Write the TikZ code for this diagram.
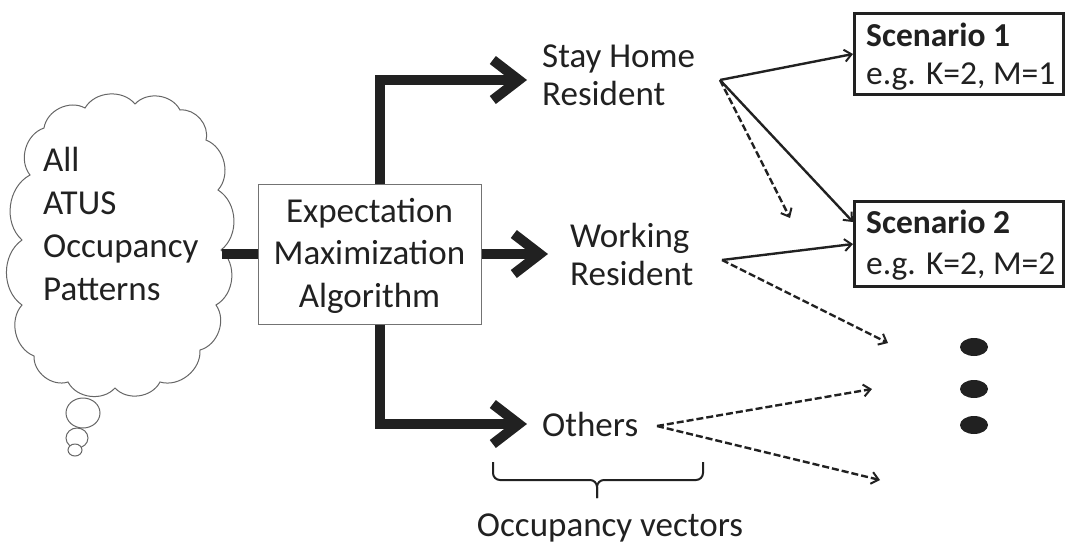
\documentclass[tikz,border=0pt]{standalone}
\usepackage{fontspec}
\setmainfont{Carlito}
\usetikzlibrary{arrows.meta,shapes.geometric,calc}
\definecolor{ink}{gray}{0.13}
% lines stacked at a fixed baseline distance; the baseline is that of the first line
\newcommand\twoline[2]{\vtop{\lineskiplimit=-100pt\relax\hbox{#1}\hbox{#2}}}
\newcommand\centredthree[3]{\vtop{\lineskiplimit=-100pt\relax
  \halign{\hfil##\hfil\cr #1\cr #2\cr #3\cr}}}
\begin{document}
\begin{tikzpicture}[x=1pt,y=-1pt,
  label text/.style={inner sep=0pt, text=ink, font=\fontsize{35}{38}\selectfont},
  scen text/.style={inner sep=0pt, text=ink, font=\fontsize{33.5}{38}\selectfont},
  fat/.style={draw=ink, line width=10pt, line join=miter,
    -{Straight Barb[length=26pt,width=40pt,line width=10pt]}},
  fatline/.style={draw=ink, line width=10pt},
  thin/.style={draw=ink, line width=2.4pt,
    -{Straight Barb[length=7pt,width=12pt,line width=2pt]}},
  dashedarrow/.style={thin, dash pattern=on 7pt off 3pt},
  scenbox/.style={draw=ink, line width=3pt, fill=white, minimum width=209pt, inner sep=0pt},
  bubble/.style={draw=black!60, line width=1pt, fill=white},
  puff/.style={bend left=55},
  bracestyle/.style={draw=ink, line width=2pt, rounded corners=7pt},
]
\useasboundingbox (0,0) rectangle (1086,550);

% thought cloud: a ring of puffs, then its trailing bubbles
\draw[bubble] (30,175) to[puff] (44,128) to[puff] (85,108) to[puff] (135,104)
  to[puff] (180,110) to[puff] (206,140) to[puff] (218,190) to[puff] (221,250)
  to[puff] (216,305) to[puff] (200,350) to[puff] (160,382) to[puff] (115,388)
  to[puff] (68,382) to[puff] (34,356) to[puff] (22,305) to[puff] (22,240)
  to[puff] (30,175) -- cycle;
\coordinate (cloudE) at (222,254);
\node[ellipse, bubble, minimum width=34pt, minimum height=30pt, inner sep=0pt] (b1) at (83,413) {};
\node[ellipse, bubble, minimum width=22pt, minimum height=20pt, inner sep=0pt] (b2) at (77,438) {};
\node[ellipse, bubble, minimum width=14pt, minimum height=12pt, inner sep=0pt] (b3) at (75,450) {};
\node[anchor=base west, inner sep=0pt, text=ink, font=\fontsize{35}{43}\selectfont]
  (cloudtext) at (43,171) {\vtop{\lineskiplimit=-100pt\relax\hbox{All}\hbox{ATUS}\hbox{Occupancy}\hbox{Patterns}}};

% EM box
\node[draw=black!55, line width=1pt, fill=white, minimum width=223pt, minimum height=140pt, inner sep=0pt]
  (em) at (369.5,254) {};
\node[anchor=base, inner sep=0pt, text=ink, font=\fontsize{35}{42.5}\selectfont]
  (emtext) at (369.5,222) {\centredthree{Expectation}{Maximization}{Algorithm}};

% class labels
\node[label text, anchor=base west] (stay) at (542,67) {\twoline{Stay Home}{Resident}};
\node[label text, anchor=base west] (work) at (570,247) {\twoline{Working}{Resident}};
\node[label text, anchor=base west] (others) at (542,436) {Others};

% scenario boxes
\node[scenbox, minimum height=81pt, anchor=north west] (s1) at (853,12) {};
\node[scenbox, minimum height=85pt, anchor=north west] (s2) at (853,200) {};
\node[scen text, anchor=base west] (s1a) at (866,46) {\bfseries Scenario 1};
\node[scen text, anchor=base west] (s1b) at (866,84) {e.g. K=2, M=1};
\node[scen text, anchor=base west] (s2a) at (866,233) {\bfseries Scenario 2};
\node[scen text, anchor=base west] (s2b) at (866,274) {e.g. K=2, M=2};

% further scenarios
\foreach \y [count=\i] in {347,389,425}
  \node[ellipse, fill=ink, minimum width=28pt, minimum height=18pt, inner sep=0pt] (dot\i) at (974,\y) {};

% anchor points of the connectors
\coordinate (trunk) at (380,0);
\coordinate (tipstay) at (527,80);
\coordinate (tipothers) at (527,424);
\coordinate (tipwork) at (548,254);
\coordinate (fanA) at (720,80);
\coordinate (fanB) at (722,260);
\coordinate (fanC) at (657,426);
\coordinate (endA) at (790,218);
\coordinate (endB) at (888,343);
\coordinate (endC1) at (872,389);
\coordinate (endC2) at (880,480);

% thick connectors
\draw[fatline] (cloudE) -- (em.west);
\draw[fat] (em.north -| trunk) |- (tipstay);
\draw[fat] (em.south -| trunk) |- (tipothers);
\draw[fat] (em.east) -- (tipwork);

% scenario connectors
\draw[thin] (fanA) -- (s1.west);
\draw[thin] (fanA) -- ($(s2.north west)!0.25!(s2.south west)$);
\draw[dashedarrow] (fanA) -- (endA);
\draw[thin] (fanB) -- (s2.west);
\draw[dashedarrow] (fanB) -- (endB);
\draw[dashedarrow] (fanC) -- (endC1);
\draw[dashedarrow] (fanC) -- (endC2);

% brace under the class labels
\coordinate (braceL) at (493,462);
\coordinate (braceR) at (703,462);
\coordinate (braceTip) at (597,498);
\draw[bracestyle] (braceL) -- (braceL |- 0,480) -- (braceTip |- 0,480) -- (braceTip);
\draw[bracestyle] (braceR) -- (braceR |- 0,480) -- (braceTip |- 0,480) -- (braceTip);
\node[label text, anchor=base] (vec) at (610,536) {Occupancy vectors};
\end{tikzpicture}
\end{document}
